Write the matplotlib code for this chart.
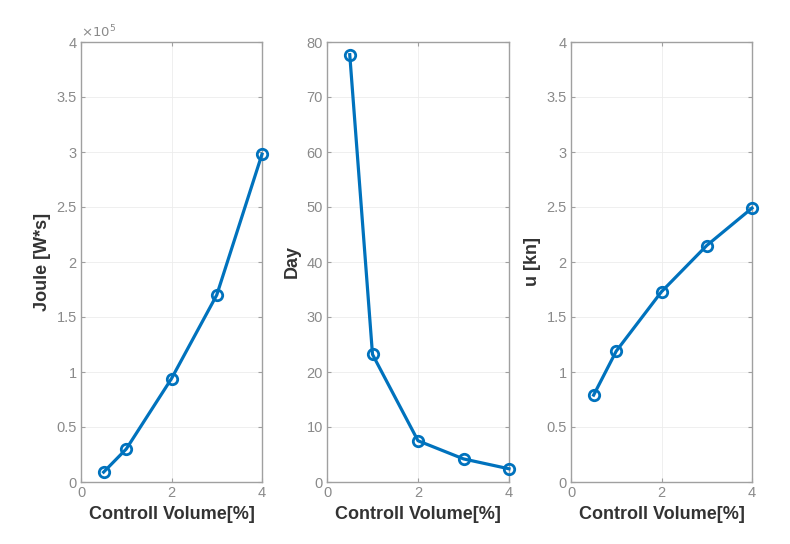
import matplotlib
matplotlib.use("Agg")
import matplotlib.pyplot as plt
from matplotlib.ticker import FuncFormatter, MultipleLocator

volume = [0.5, 1, 2, 3, 4]
joule = [0.09e5, 0.30e5, 0.94e5, 1.70e5, 2.98e5]
day = [77.7, 23.2, 7.5, 4.2, 2.4]
u_kn = [0.79, 1.19, 1.73, 2.15, 2.49]

plt.rcParams['font.family'] = ['Liberation Sans', 'DejaVu Sans']
blue = '#0072BD'
gray = '#8a8a8a'

fig = plt.figure(figsize=(7.9, 5.44), dpi=100)
W, H = 790, 544
boxes = [(81, 262), (327, 509), (571, 752)]
top, bottom = 42, 482

specs = [
    (joule, 'Joule [W*s]', (0, 4e5), 0.5e5),
    (day, 'Day', (0, 80), 10),
    (u_kn, 'u [kn]', (0, 4), 0.5),
]

for i, ((x0, x1), (data, ylabel, ylim, ystep)) in enumerate(zip(boxes, specs)):
    ax = fig.add_axes([x0 / W, 1 - bottom / H, (x1 - x0) / W, (bottom - top) / H])
    ax.plot(volume, data, color=blue, lw=2.3, marker='o', ms=7.5,
            mfc='none', mec=blue, mew=2, clip_on=False, zorder=5)
    ax.set_xlim(0, 4)
    ax.set_ylim(*ylim)
    ax.xaxis.set_major_locator(MultipleLocator(2))
    ax.yaxis.set_major_locator(MultipleLocator(ystep))
    ax.grid(True, color='#ececec', lw=0.6)
    ax.set_axisbelow(True)
    for s in ax.spines.values():
        s.set_color('#a0a0a0')
        s.set_linewidth(1.0)
    ax.tick_params(direction='in', length=3, width=0.8, colors='#a0a0a0',
                   labelcolor=gray, labelsize=10.5, top=True, right=True, pad=3)
    ax.set_xlabel('Controll Volume[%]', fontsize=13, fontweight='bold',
                  color='#333333', labelpad=4)
    ax.set_ylabel(ylabel, fontsize=13, fontweight='bold', color='#333333', labelpad=4)
    if i == 0:
        ax.yaxis.set_major_formatter(FuncFormatter(lambda v, p: f'{v/1e5:g}'))
        ax.text(0.0, 1.005, r'$\times10^5$', transform=ax.transAxes,
                fontsize=9.5, color=gray, ha='left', va='bottom')
    else:
        ax.yaxis.set_major_formatter(FuncFormatter(lambda v, p: f'{v:g}'))

fig.savefig('out.png', dpi=100)
